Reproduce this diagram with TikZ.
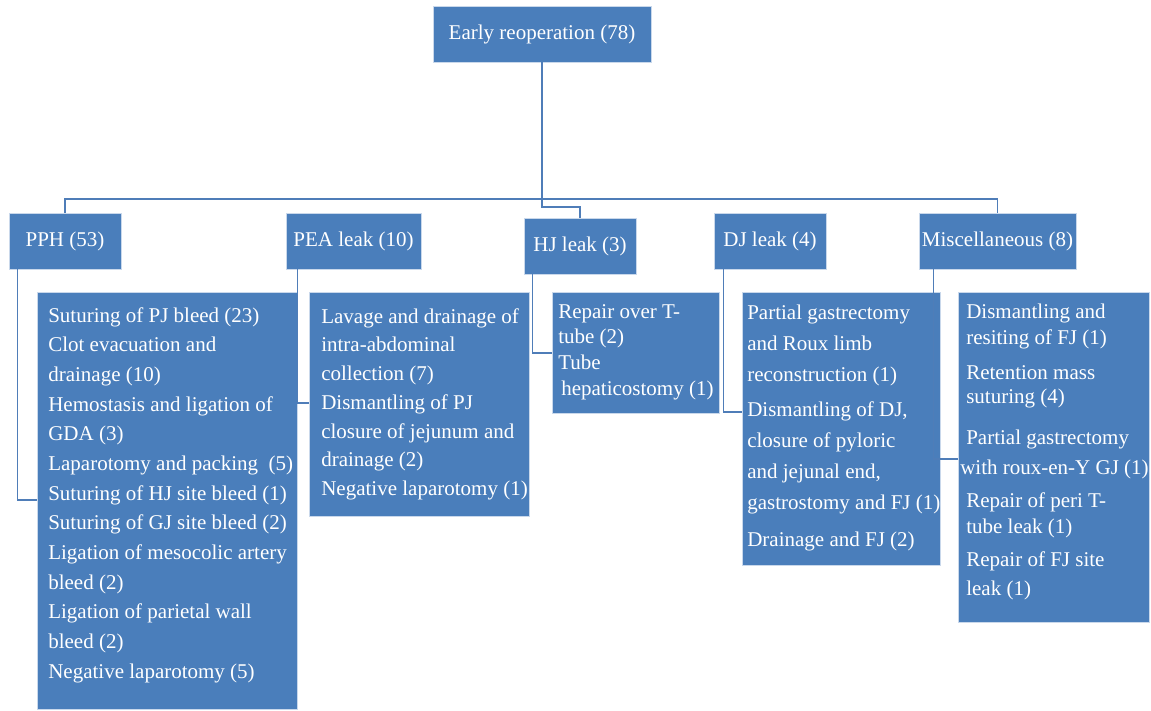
\documentclass[tikz,border=0pt]{standalone}
\usepackage{fontspec}
\setmainfont{Liberation Serif}
\definecolor{boxblue}{RGB}{74,126,187}
\definecolor{lineblue}{RGB}{79,125,184}
\newcommand{\steplist}[5]{\parbox[c][#2][t]{#1}{\vspace*{#3}\hspace*{#4}\begin{tabular}[t]{@{}l@{}}#5\end{tabular}}}
\begin{document}
\begin{tikzpicture}[x=1pt,y=-1pt]
  \tikzstyle{head}=[fill=boxblue,draw=white!70!boxblue,line width=0.6pt,text=white,font=\fontsize{21}{25}\selectfont,inner sep=0pt,minimum height=56pt]
  \tikzstyle{listbox}=[fill=boxblue,draw=white!70!boxblue,line width=0.6pt,text=white,inner sep=0pt,anchor=north west]
  \tikzstyle{edge}=[draw,lineblue,line width=1.3pt]
  \useasboundingbox (0,0) rectangle (1151,710);
  \node[head,minimum width=218pt] (root) at (542,34) {Early reoperation (78)};
  \node[head,minimum width=112pt] (pph) at (65,241) {PPH (53)};
  \node[head,minimum width=135pt] (pea) at (353.5,241) {PEA leak (10)};
  \node[head,minimum width=112pt] (hj) at (580,246) {HJ leak (3)};
  \node[head,minimum width=112pt] (dj) at (770,241) {DJ leak (4)};
  \node[head,minimum width=157pt] (misc) at (997.5,241) {Miscellaneous (8)};
  \node[listbox,font=\fontsize{21}{29.67}\selectfont] (pphList) at (37,292) {\steplist{260pt}{417pt}{9.2pt}{11pt}{%
    Suturing of PJ bleed (23)\\
    Clot evacuation and\\
    drainage (10)\\
    Hemostasis and ligation of\\
    GDA (3)\\
    Laparotomy and packing~ (5)\\
    Suturing of HJ site bleed (1)\\
    Suturing of GJ site bleed (2)\\
    Ligation of mesocolic artery\\
    bleed (2)\\
    Ligation of parietal wall\\
    bleed (2)\\
    Negative laparotomy (5)}};
  \node[listbox,font=\fontsize{21}{28.7}\selectfont] (peaList) at (309,292) {\steplist{220pt}{224pt}{10.9pt}{12pt}{%
    Lavage and drainage of\\
    intra-abdominal\\
    collection (7)\\
    Dismantling of PJ\\
    closure of jejunum and\\
    drainage (2)\\
    Negative laparotomy (1)}};
  \node[listbox,font=\fontsize{21}{25.7}\selectfont] (hjList) at (552,292) {\steplist{167pt}{121pt}{8pt}{6pt}{%
    Repair over T-\\
    tube (2)\\
    Tube\\
    \hspace*{3pt}hepaticostomy (1)}};
  \node[listbox,font=\fontsize{21}{31}\selectfont] (djList) at (742,292) {\steplist{198pt}{273pt}{5.3pt}{5pt}{%
    Partial gastrectomy\\
    and Roux limb\\
    reconstruction (1)\\[4pt]
    Dismantling of DJ,\\
    closure of pyloric\\
    and jejunal end,\\
    gastrostomy and FJ (1)\\[6pt]
    Drainage and FJ (2)}};
  \node[listbox,font=\fontsize{21}{26}\selectfont] (miscList) at (958,292) {\steplist{191pt}{330pt}{7.8pt}{8pt}{%
    Dismantling and\\
    resiting of FJ (1)\\[9pt]
    Retention mass\\[-2pt]
    suturing (4)\\[15pt]
    Partial gastrectomy\\[4pt]
    \hspace*{-6pt}with roux-en-Y GJ (1)\\[7pt]
    Repair of peri T-\\
    tube leak (1)\\[7pt]
    Repair of FJ site\\[3pt]
    leak (1)}};
  \coordinate (bus) at (542,199);
  \coordinate (hjJog) at (580,207);
  \path[edge] (root.south) -- (bus);
  \path[edge] (pph.north) |- (bus) -| (misc.north);
  \path[edge] (root.south) |- (hjJog) -- (hj.north);
  \path[edge] ([xshift=9pt]pph.south west) |- ([yshift=-208pt]pphList.north west);
  \path[edge] ([xshift=12pt]pea.south west) |- ([yshift=-111pt]peaList.north west);
  \path[edge] ([xshift=9pt]hj.south west) |- ([yshift=-61pt]hjList.north west);
  \path[edge] ([xshift=10pt]dj.south west) |- ([yshift=-120pt]djList.north west);
  \path[edge] ([xshift=15pt]misc.south west) |- ([yshift=-167pt]miscList.north west);
\end{tikzpicture}
\end{document}
